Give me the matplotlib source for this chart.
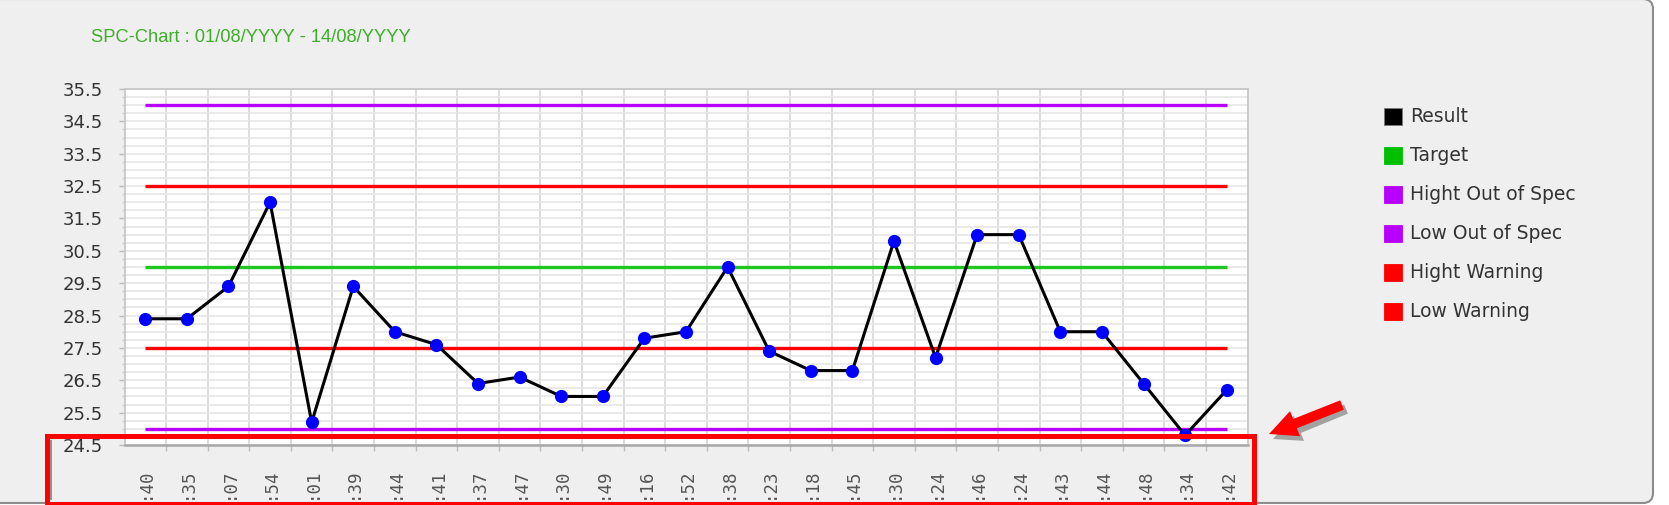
import matplotlib
matplotlib.use("Agg")
import matplotlib.pyplot as plt
from matplotlib import font_manager
from matplotlib.patches import Rectangle, FancyBboxPatch, FancyArrow
from matplotlib.ticker import FixedLocator, MultipleLocator

# ---------------- data ----------------
time_labels = [':40', ':35', ':07', ':54', ':01', ':39', ':44', ':41', ':37', ':47',
               ':30', ':49', ':16', ':52', ':38', ':23', ':18', ':45', ':30', ':24',
               ':46', ':24', ':43', ':44', ':48', ':34', ':42']
results = [28.4, 28.4, 29.4, 32.0, 25.2, 29.4, 28.0, 27.6, 26.4, 26.6,
           26.0, 26.0, 27.8, 28.0, 30.0, 27.4, 26.8, 26.8, 30.8, 27.2,
           31.0, 31.0, 28.0, 28.0, 26.4, 24.8, 26.2]
target = 30.0
high_out_of_spec = 35.0
low_out_of_spec = 25.0
high_warning = 32.5
low_warning = 27.5
y_min, y_max = 24.5, 35.5
title_text = "SPC-Chart : 01/08/YYYY - 14/08/YYYY"
legend_names = ['Result', 'Target', 'Hight Out of Spec', 'Low Out of Spec',
                'Hight Warning', 'Low Warning']

# ---------------- styles ----------------
C_RESULT = '#000000'
C_MARKER = '#0000ff'
C_TARGET = '#1ec81e'
C_SPEC = '#b800ff'
C_WARN = '#ff0000'
legend_colors = [C_RESULT, '#00c000', C_SPEC, C_SPEC, C_WARN, C_WARN]

W, H = 1669, 505
fig = plt.figure(figsize=(W / 100, H / 100), dpi=100)
fig.patch.set_facecolor('white')

# background panel
bg = fig.add_axes([0, 0, 1, 1], zorder=0)
bg.set_xlim(0, W)
bg.set_ylim(H, 0)
bg.axis('off')
panel = FancyBboxPatch((-30, -1), 1653 + 30, 503 + 1,
                       boxstyle="round,pad=0,rounding_size=10",
                       facecolor='#efefef', edgecolor='#8c8c8c', linewidth=1.5)
bg.add_patch(panel)

# title font
def has_font(name):
    try:
        font_manager.findfont(name, fallback_to_default=False)
        return True
    except Exception:
        return False

if has_font('Liberation Sans Narrow'):
    bg.text(91, 38, title_text, color='#3fae2a', fontsize=15.5,
            family='Liberation Sans Narrow', va='center', ha='left')
else:
    bg.text(91, 38, title_text, color='#3fae2a', fontsize=13.2,
            family=['Liberation Sans', 'DejaVu Sans'], va='center', ha='left')

# legend (manual, from names/colors)
leg_y0, leg_dy = 116, 39
for i, (name, col) in enumerate(zip(legend_names, legend_colors)):
    yc = leg_y0 + i * leg_dy
    bg.add_patch(Rectangle((1384, yc - 8.5), 18, 17, facecolor=col,
                           edgecolor='#777777' if col == C_RESULT else col,
                           linewidth=0.6))
    bg.text(1410, yc + 0.5, name, fontsize=13.5, color='#333333',
            va='center', ha='left', family='DejaVu Sans')

# ---------------- main plot ----------------
left_px, right_px, top_px, bot_px = 124.5, 1247.5, 89, 445
ax = fig.add_axes([left_px / W, 1 - bot_px / H,
                   (right_px - left_px) / W, (bot_px - top_px) / H], zorder=1)
ax.set_facecolor('white')
n = len(results)
x = list(range(n))
ax.set_xlim(-0.5, n - 0.5)
ax.set_ylim(y_min, y_max)

# grid
ax.xaxis.set_major_locator(FixedLocator(x))
ax.xaxis.set_minor_locator(FixedLocator([i + 0.5 for i in range(n - 1)]))
ax.yaxis.set_major_locator(MultipleLocator(1.0, offset=0.5))
ax.yaxis.set_minor_locator(MultipleLocator(0.25))
ax.grid(which='minor', axis='x', color='#d6d6d6', linewidth=1.2)
ax.grid(which='minor', axis='y', color='#e6e6e6', linewidth=1.2)
ax.grid(which='major', axis='y', color='#e6e6e6', linewidth=1.2)
ax.set_axisbelow(True)

ax.set_xticklabels(time_labels, rotation=90, fontsize=12.5,
                   family='DejaVu Sans Mono', color='#555555')
ax.tick_params(axis='x', which='major', length=0, pad=16)
ax.tick_params(axis='x', which='minor', length=4.5, color='#bbbbbb', width=1)
ax.set_yticklabels([f"{v:.1f}" for v in ax.get_yticks()])
ax.tick_params(axis='y', which='major', length=4.5, color='#bbbbbb', width=1,
               labelsize=13, labelcolor='#333333', pad=11)
ax.tick_params(axis='y', which='minor', length=2.5, color='#cccccc', width=1)

for s in ['left', 'top', 'right']:
    ax.spines[s].set_color('#c4c4c4')
    ax.spines[s].set_linewidth(1.2)
ax.spines['bottom'].set_color('#a8a8a8')
ax.spines['bottom'].set_linewidth(1.8)

# reference lines
for val, col in [(high_out_of_spec, C_SPEC), (low_out_of_spec, C_SPEC),
                 (high_warning, C_WARN), (low_warning, C_WARN),
                 (target, C_TARGET)]:
    ax.hlines(val, 0, n - 1, colors=col, linewidth=2.4, zorder=2)

# results
ax.plot(x, results, color=C_RESULT, linewidth=2.2, zorder=3)
ax.plot(x, results, linestyle='none', marker='o', markersize=9.5,
        markerfacecolor=C_MARKER, markeredgewidth=0, zorder=4, clip_on=False)

# ---------------- overlay annotations ----------------
ov = fig.add_axes([0, 0, 1, 1], zorder=2)
ov.set_xlim(0, W)
ov.set_ylim(H, 0)
ov.axis('off')
ov.patch.set_alpha(0)
ov.add_patch(Rectangle((46.5, 435.5), 1253.5 - 46.5, 504 - 435.5,
                       fill=False, edgecolor='#ff0000', linewidth=3.6))
ov.add_patch(Rectangle((50, 440), 1.5, 60, facecolor='#555555',
                       edgecolor='none', alpha=0.6))
# arrow with shadow
ov.add_patch(FancyArrow(1346, 409, -73, 30, width=10, head_width=27,
                        head_length=28, length_includes_head=True,
                        facecolor='#444444', edgecolor='none', alpha=0.45))
ov.add_patch(FancyArrow(1342, 405, -73, 29, width=10, head_width=27,
                        head_length=28, length_includes_head=True,
                        facecolor='#ff0000', edgecolor='none'))

fig.savefig('out.png', dpi=100, facecolor=fig.get_facecolor())
